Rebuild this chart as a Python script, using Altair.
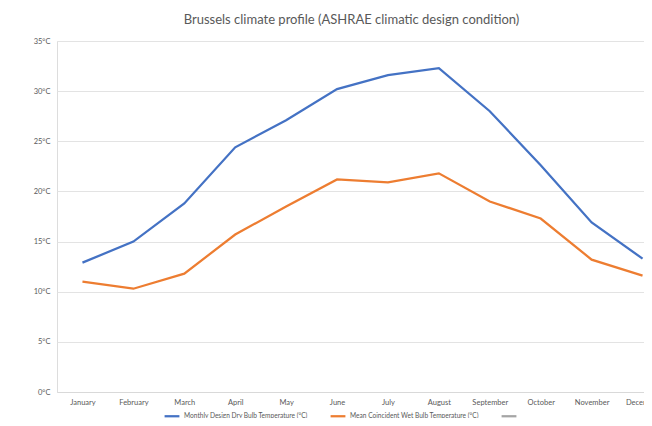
import altair as alt
import pandas as pd

months = ["January", "February", "March", "April", "May", "June", "July",
          "August", "September", "October", "November", "December"]
dry_bulb = [12.9, 15.0, 18.8, 24.4, 27.1, 30.2, 31.6, 32.3, 28.0, 22.6, 16.9, 13.3]
wet_bulb = [11.0, 10.3, 11.8, 15.7, 18.5, 21.2, 20.9, 21.8, 19.0, 17.3, 13.2, 11.6]

series_names = ["Monthly Design Dry Bulb Temperature (°C)",
                "Mean Coincident Wet Bulb Temperature (°C)",
                " "]
series_colors = ["#4472C4", "#ED7D31", "#A5A5A5"]

rows = []
for m, d, w in zip(months, dry_bulb, wet_bulb):
    rows.append({"month": m, "series": series_names[0], "temp": d})
    rows.append({"month": m, "series": series_names[1], "temp": w})
df = pd.DataFrame(rows)

FONT = "Lato"
GREY = "#595959"

chart = alt.Chart(df).mark_line(strokeWidth=2.25).encode(
    x=alt.X("month:N", sort=months,
            scale=alt.Scale(type="point", padding=0.5),
            axis=alt.Axis(title=None, labelAngle=0, ticks=False, domain=True,
                          domainColor="#D9D9D9", labelFontSize=7.5,
                          labelColor=GREY, labelPadding=6, labelFont=FONT)),
    y=alt.Y("temp:Q",
            scale=alt.Scale(domain=[0, 35], nice=False, zero=True),
            axis=alt.Axis(title=None, values=[0, 5, 10, 15, 20, 25, 30, 35],
                          labelExpr="datum.value + '°C'", domain=False,
                          ticks=False, gridColor="#E3E3E3", labelFontSize=7.5,
                          labelColor=GREY, labelPadding=7, labelFont=FONT)),
    color=alt.Color("series:N",
                    scale=alt.Scale(domain=series_names, range=series_colors),
                    legend=alt.Legend(title=None, orient="none", direction="horizontal",
                                      legendX=106, legendY=366,
                                      symbolType="stroke", symbolStrokeWidth=2.25,
                                      symbolSize=220, labelFontSize=6.6,
                                      labelColor=GREY, labelFont=FONT,
                                      labelOffset=3, labelBaseline="middle",
                                      columnPadding=18, symbolOffset=0)),
).properties(
    width=611,
    height=351,
    autosize=alt.AutoSizeParams(type="none"),
    padding={"left": 49, "top": 33, "right": -24, "bottom": 26},
    title=alt.TitleParams("Brussels climate profile (ASHRAE climatic design condition)",
                          fontSize=13, font=FONT, color=GREY, fontWeight="normal",
                          anchor="middle", dx=-11, offset=10),
).configure_view(stroke=None).configure(background="white")

chart.save("out.html", embed_options={"renderer": "svg", "actions": False})
